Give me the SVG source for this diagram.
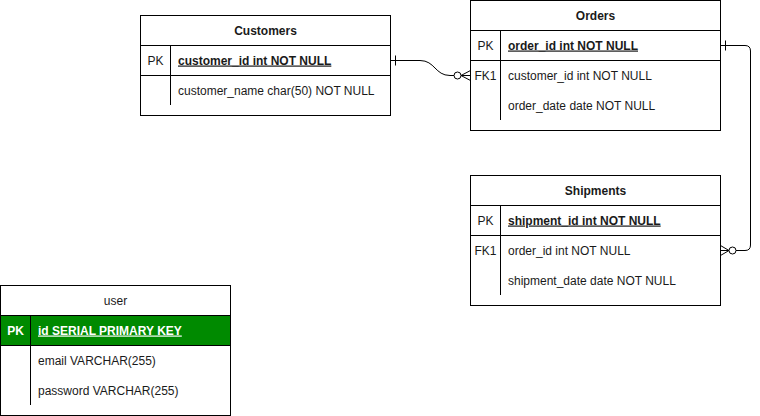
<svg xmlns="http://www.w3.org/2000/svg" width="760" height="416" viewBox="0 0 760 416">
<style>
.box{fill:#fff;stroke:#000;stroke-width:1}
.ln{stroke:#000;stroke-width:1;fill:none}
text{font-family:"Liberation Sans",Arial,sans-serif;font-size:12px;fill:#1a1a1a}
.hd{text-anchor:middle;font-weight:bold}
.key{text-anchor:middle}
.pk{font-weight:bold;text-decoration:underline}
.wt{fill:#fff}
.edge{stroke:#000;stroke-width:1;fill:none}
</style>
<rect width="760" height="416" fill="#fff"/>
<g id="customers">
<rect class="box" x="140.5" y="15.5" width="250" height="100"/>
<line class="ln" x1="140.5" y1="45.5" x2="390.5" y2="45.5"/>
<line class="ln" x1="140.5" y1="75.5" x2="390.5" y2="75.5"/>
<line class="ln" x1="170.5" y1="45.5" x2="170.5" y2="105"/>
<text class="hd" x="265.5" y="34.5">Customers</text>
<text class="key" x="155.5" y="64.5">PK</text>
<text class="pk" x="178" y="64.5">customer_id int NOT NULL</text>
<text x="178" y="94.5">customer_name char(50) NOT NULL</text>
</g>
<g id="orders">
<rect class="box" x="470.5" y="0.5" width="250" height="130"/>
<line class="ln" x1="470.5" y1="30.5" x2="720.5" y2="30.5"/>
<line class="ln" x1="470.5" y1="60.5" x2="720.5" y2="60.5"/>
<line class="ln" x1="500.5" y1="30.5" x2="500.5" y2="120"/>
<text class="hd" x="595.5" y="19.5">Orders</text>
<text class="key" x="485.5" y="49.5">PK</text>
<text class="pk" x="508" y="49.5">order_id int NOT NULL</text>
<text class="key" x="485.5" y="79.5">FK1</text>
<text x="508" y="79.5">customer_id int NOT NULL</text>
<text x="508" y="109.5">order_date date NOT NULL</text>
</g>
<g id="shipments">
<rect class="box" x="470.5" y="175.5" width="250" height="130"/>
<line class="ln" x1="470.5" y1="205.5" x2="720.5" y2="205.5"/>
<line class="ln" x1="470.5" y1="235.5" x2="720.5" y2="235.5"/>
<line class="ln" x1="500.5" y1="205.5" x2="500.5" y2="295"/>
<text class="hd" x="595.5" y="194.5">Shipments</text>
<text class="key" x="485.5" y="224.5">PK</text>
<text class="pk" x="508" y="224.5">shipment_id int NOT NULL</text>
<text class="key" x="485.5" y="254.5">FK1</text>
<text x="508" y="254.5">order_id int NOT NULL</text>
<text x="508" y="284.5">shipment_date date NOT NULL</text>
</g>
<g id="user">
<rect class="box" x="0.5" y="285.5" width="230" height="130"/>
<rect x="0.5" y="315.5" width="230" height="30" fill="#008a00" stroke="#000"/>
<line class="ln" x1="30.5" y1="316" x2="30.5" y2="345" stroke="#005700"/>
<line class="ln" x1="30.5" y1="345.5" x2="30.5" y2="405"/>
<text x="115.5" y="304.5" text-anchor="middle">user</text>
<text class="key wt" x="15.5" y="334.5" font-weight="bold">PK</text>
<text class="pk wt" x="38" y="334.5">id SERIAL PRIMARY KEY</text>
<text x="38" y="364.5">email VARCHAR(255)</text>
<text x="38" y="394.5">password VARCHAR(255)</text>
</g>
<g id="connectors">
<path class="edge" d="M390.5 60.5 H420 C435 60.5 435 75.5 450 75.5 H454"/>
<line class="edge" x1="395.5" y1="55.5" x2="395.5" y2="65.5"/>
<circle cx="457.5" cy="75.5" r="3.5" fill="#fff" stroke="#000"/>
<path class="edge" d="M461 75.5 H470.5 M461 75.5 L470.5 70.5 M461 75.5 L470.5 80.5"/>
<path class="edge" d="M720.5 45.5 H745 Q750.5 45.5 750.5 51 V245 Q750.5 250.5 745 250.5 H736"/>
<line class="edge" x1="725.5" y1="40.5" x2="725.5" y2="50.5"/>
<circle cx="732.5" cy="250.5" r="3.5" fill="#fff" stroke="#000"/>
<path class="edge" d="M729 250.5 H720.5 M729 250.5 L720.5 245.5 M729 250.5 L720.5 255.5"/>
</g>
</svg>
